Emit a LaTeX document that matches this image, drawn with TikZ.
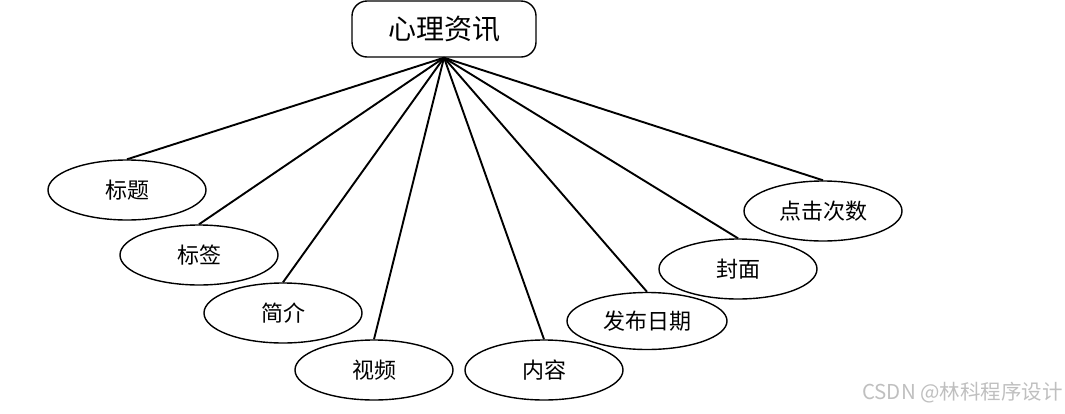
\documentclass[tikz,border=0pt]{standalone}
\usepackage{fontspec}
\setmainfont{Noto Sans CJK SC}
\usetikzlibrary{shapes.geometric}
\begin{document}
\begin{tikzpicture}[x=1pt,y=-1pt,
  attr/.style={draw, ellipse, line width=1.4pt, minimum width=158pt, minimum height=60pt, inner sep=0pt, font=\fontsize{22}{26}\selectfont},
  rootbox/.style={draw, rounded corners=15pt, line width=1.4pt, minimum width=184pt, minimum height=56pt, inner sep=0pt, font=\fontsize{28}{32}\selectfont},
  link/.style={line width=1.9pt}]
\useasboundingbox (0,0) rectangle (1065,413);
\node[rootbox] (root) at (444,29) {心理资讯};
\node[attr] (a1) at (127,190) {标题};
\node[attr] (a2) at (199,255) {标签};
\node[attr] (a3) at (283,313) {简介};
\node[attr] (a4) at (374,370) {视频};
\node[attr] (a5) at (544,370) {内容};
\node[attr, minimum height=57pt, minimum width=160pt] (a6) at (647,321) {发布日期};
\node[attr] (a7) at (738,269) {封面};
\node[attr] (a8) at (823,211) {点击次数};
\foreach \n in {a1,a2,a3,a4,a5,a6,a7,a8}
  \draw[link] (root.south) -- (\n.north);
\node[text=black!25, font=\fontsize{20.5}{24}\selectfont, anchor=east, inner sep=0pt] (wm) at (1063,393) {CSDN @林科程序设计};
\end{tikzpicture}
\end{document}
